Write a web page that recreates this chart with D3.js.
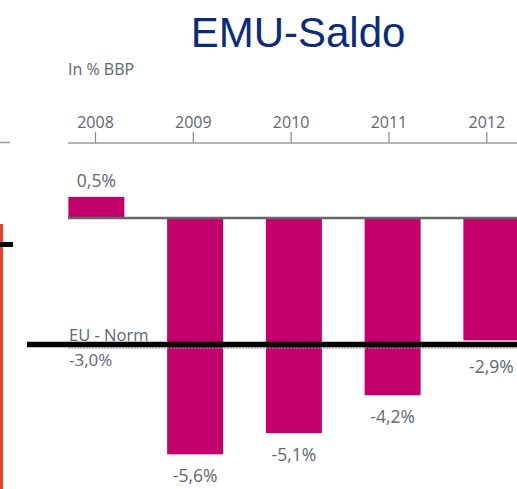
<!DOCTYPE html>
<html>
<head>
<meta charset="utf-8">
<script src="https://cdn.jsdelivr.net/npm/d3@7"></script>
<style>
  body { margin: 0; background: #fff; }
  svg { display: block; }
  text { font-family: "Open Sans", "Noto Sans", sans-serif; }
</style>
</head>
<body>
<div id="chart"></div>
<script>
// Data
const years = [2008, 2009, 2010, 2011, 2012];
const saldo = [0.5, -5.6, -5.1, -4.2, -2.9];
const euNorm = -3.0;
const valueLabels = ['0,5%', '-5,6%', '-5,1%', '-4,2%', '-2,9%'];

const width = 517;
const height = 489;
const textGray = '#5f6670';

const svg = d3.select('#chart')
    .append('svg')
    .attr('width', width)
    .attr('height', height);

// leftover edges of the neighbouring slide element
svg.append('line')
    .attr('x1', 0).attr('x2', 10).attr('y1', 142.5).attr('y2', 142.5)
    .attr('stroke', '#999').attr('stroke-width', 1.5);
svg.append('rect')
    .attr('x', 0).attr('y', 224).attr('width', 3).attr('height', height - 224)
    .attr('fill', '#e8402e');
svg.append('rect')
    .attr('x', 0).attr('y', 242).attr('width', 13).attr('height', 5)
    .attr('fill', '#000');

// Title
svg.append('text')
    .attr('x', 298)
    .attr('y', 47)
    .attr('text-anchor', 'middle')
    .style('font-family', '"Liberation Sans", Arial, sans-serif')
    .attr('font-size', 42)
    .attr('fill', '#0b2c7c')
    .text('EMU-Saldo');

svg.append('text')
    .attr('x', 68)
    .attr('y', 75)
    .attr('font-size', 16)
    .attr('fill', textGray)
    .text('In % BBP');

// Scales
const x = d3.scaleBand()
    .domain(years)
    .range([68 - 21, 68 - 21 + 98.75 * years.length])
    .paddingInner(0.433)
    .paddingOuter(0.2165);

const xTick = d3.scaleLinear()
    .domain([2008, 2012])
    .range([95, 486.3]);

const y = d3.scaleLinear()
    .domain([0, -6])
    .range([218, 218 + 6 * 42.2]);

// Top axis with year ticks
const topAxis = d3.axisTop(xTick)
    .tickValues(years)
    .tickFormat(d3.format('d'))
    .tickSize(11)
    .tickPadding(4);

const axisG = svg.append('g')
    .attr('transform', 'translate(0,143)')
    .call(topAxis);
axisG.select('.domain').remove();
axisG.selectAll('.tick line').attr('stroke', '#888').attr('stroke-width', 1.2);
axisG.selectAll('.tick text')
    .attr('font-size', 16)
    .attr('fill', textGray)
    .style('font-family', '"Open Sans", sans-serif');
axisG.append('line')
    .attr('x1', 68).attr('x2', width)
    .attr('stroke', '#9a9a9a').attr('stroke-width', 1.5);

// Bars
svg.append('g')
    .selectAll('rect')
    .data(years)
    .enter()
    .append('rect')
    .attr('x', d => x(d))
    .attr('width', x.bandwidth())
    .attr('y', (d, i) => Math.min(y(saldo[i]), y(0)))
    .attr('height', (d, i) => Math.abs(y(saldo[i]) - y(0)))
    .attr('fill', '#c3006b');

// Zero line
svg.append('line')
    .attr('x1', 68).attr('x2', width)
    .attr('y1', y(0)).attr('y2', y(0))
    .attr('stroke', '#666').attr('stroke-width', 2.5);

// EU norm: dashed gray line and heavy black line
svg.append('line')
    .attr('x1', 68).attr('x2', width)
    .attr('y1', y(euNorm) + 3.5).attr('y2', y(euNorm) + 3.5)
    .attr('stroke', '#999').attr('stroke-width', 1)
    .attr('stroke-dasharray', '2,1');
svg.append('line')
    .attr('x1', 27).attr('x2', width)
    .attr('y1', y(euNorm)).attr('y2', y(euNorm))
    .attr('stroke', '#000').attr('stroke-width', 5.5);

svg.append('text')
    .attr('x', 69)
    .attr('y', y(euNorm) - 4)
    .attr('font-size', 16.5)
    .attr('fill', textGray)
    .text('EU - Norm');
svg.append('text')
    .attr('x', 69)
    .attr('y', y(euNorm) + 21)
    .attr('font-size', 17)
    .attr('fill', textGray)
    .text('-3,0%');

// Value labels
svg.append('g')
    .selectAll('text')
    .data(years)
    .enter()
    .append('text')
    .attr('x', d => x(d) + x.bandwidth() / 2)
    .attr('y', (d, i) => saldo[i] >= 0
        ? y(saldo[i]) - 10
        : Math.max(y(saldo[i]), y(euNorm)) + 28)
    .attr('text-anchor', 'middle')
    .attr('font-size', 17.5)
    .attr('fill', textGray)
    .text((d, i) => valueLabels[i]);
</script>
</body>
</html>
